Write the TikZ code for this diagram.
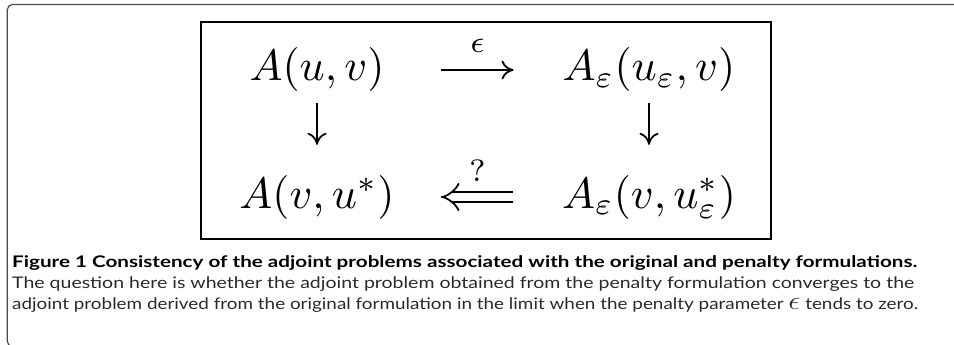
\documentclass[tikz,border=0pt]{standalone}
\usepackage{graphicx}
\usepackage[no-math]{fontspec}
\newfontfamily\capfont{Lato}
\usetikzlibrary{arrows.meta}
\definecolor{framegray}{HTML}{4A4A4A}
\definecolor{captext}{HTML}{2A2A2A}
\newcommand{\hugemath}[1]{\scalebox{4.4}{$#1$}}
\newcommand{\fitline}[2]{\resizebox{#1}{\height}{#2}}
\begin{document}
\begin{tikzpicture}[x=1pt,y=-1pt,
  mathnode/.style={inner sep=0pt, anchor=base},
  lbl/.style={inner sep=0pt, anchor=base},
  cmto/.style={line width=1.76pt, -{Computer Modern Rightarrow[length=12pt,width=19pt]}},
  cmimp/.style={line width=1.76pt, double distance=8.2pt, {Implies[length=15pt,width=27pt]}-},
  capbold/.style={inner sep=0pt, anchor=base west, font=\capfont\bfseries\fontsize{16}{19}\selectfont},
  capreg/.style={inner sep=0pt, anchor=base west, text=captext, font=\capfont\fontsize{16}{19}\selectfont}]
\useasboundingbox (0,0) rectangle (954,345);
% outer figure frame
\begin{scope}
\clip (0,0) rectangle (954,345);
\draw[framegray, line width=1.2pt, rounded corners=5.2pt] (960,4.5) -- (7.3,4.5) -- (7.3,346.5) -- (960,346.5);
\end{scope}
% inner frame
\draw[line width=2pt] (201,22) rectangle (771,238.5);
% diagram nodes
\node[mathnode] (a) at (317,81) {\hugemath{A(u,v)}};
\node[mathnode] (b) at (649,81) {\hugemath{A_\varepsilon(u_\varepsilon,v)}};
\node[mathnode] (c) at (317,208) {\hugemath{A(v,u^*)}};
\node[mathnode] (d) at (649,208) {\hugemath{A_\varepsilon(v,u^*_\varepsilon)}};
% connectors
\draw[cmto, shorten <=56pt, shorten >=49pt] (a.east) -- (b.west);
\draw[cmto, shorten <=11pt, shorten >=30pt] (a.south) -- (c.north);
\draw[cmto, shorten <=11pt, shorten >=30pt] (b.south) -- (d.north);
\draw[cmimp, shorten <=46pt, shorten >=49pt] (c.east) -- (d.west);
% arrow labels
\node[lbl] (eps) at (477.5,53) {\hugemath{\scriptstyle\epsilon}};
\node[lbl] (q) at (477.5,181.5) {\hugemath{\scriptstyle ?}};
% caption
\node[capbold] (cap1) at (12,267) {\fitline{905pt}{Figure 1 Consistency of the adjoint problems associated with the original and penalty formulations.}};
\node[capreg] (cap2) at (12,288.5) {\fitline{902pt}{The question here is whether the adjoint problem obtained from the penalty formulation converges to the}};
\node[capreg] (cap3) at (12,309.5) {\fitline{906pt}{adjoint problem derived from the original formulation in the limit when the penalty parameter \scalebox{1.5}{$\epsilon$} tends to zero.}};
\end{tikzpicture}
\end{document}
